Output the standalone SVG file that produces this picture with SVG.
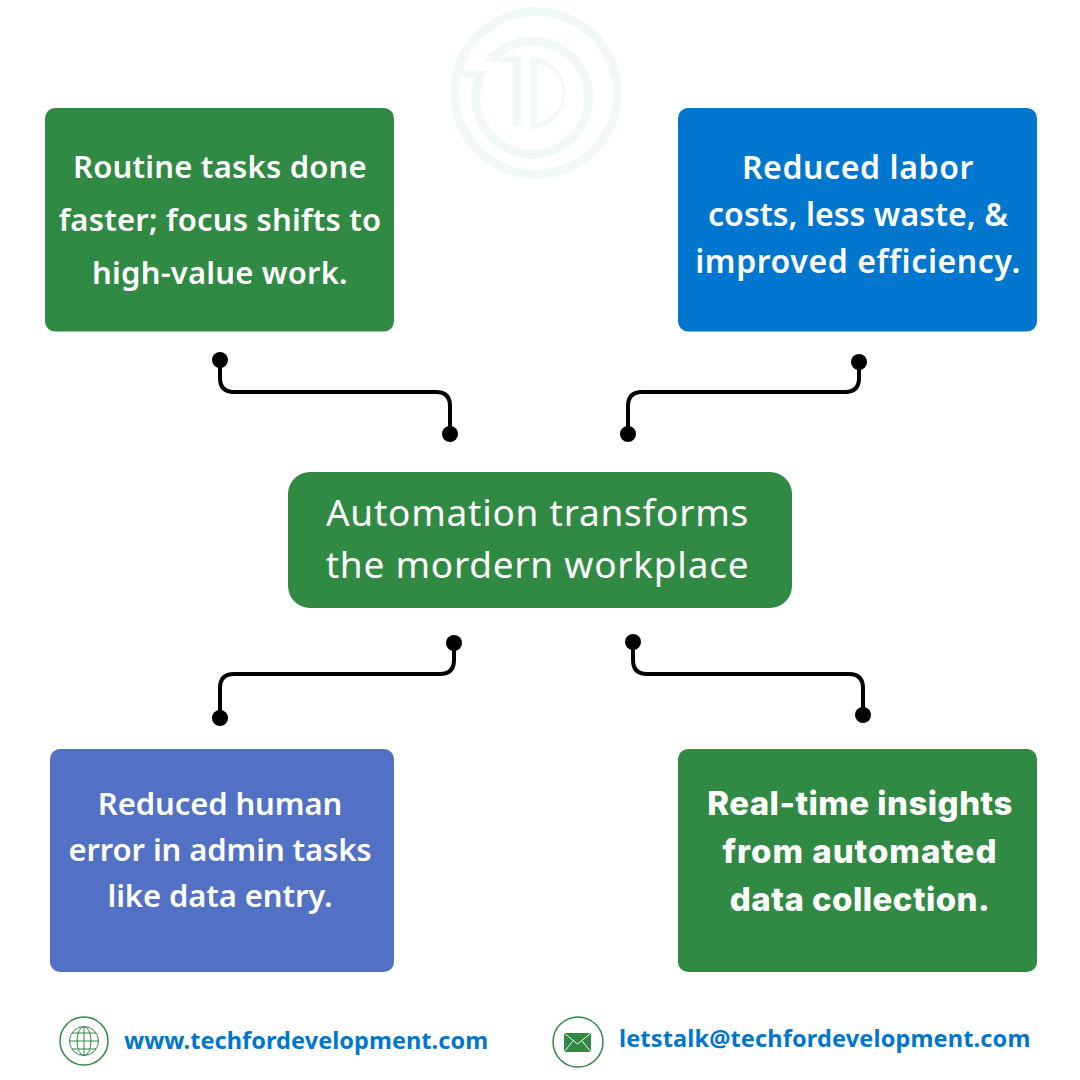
<svg xmlns="http://www.w3.org/2000/svg" width="1080" height="1080" viewBox="0 0 1080 1080">
<style>
text{font-family:"Noto Sans","Open Sans",sans-serif;text-anchor:middle;fill:#fff}
.b{font-size:31px;font-weight:600;letter-spacing:.2px}
.b2{font-size:32px;font-weight:600;letter-spacing:.6px}
.b3{font-size:31px;font-weight:600;letter-spacing:-.1px}
.x{font-size:33px;font-weight:800;letter-spacing:.45px;font-family:"Inter","Noto Sans",sans-serif}
.c{font-size:37px;font-weight:400;letter-spacing:.75px}
.l{font-size:23.500px;font-weight:700;fill:#0076ce;text-anchor:start;letter-spacing:.06px}
.g{fill:#318a43}.u{fill:#0076ce}.p{fill:#5271c4}
.w{fill:none;stroke:#000;stroke-width:4}
.logo{fill:none;stroke:#f0f9f5;stroke-width:9}
.lf{fill:#f0f9f5}
.ic{fill:none;stroke:#318a43}
</style>
<g id="logo">
<circle class="logo" cx="536" cy="93" r="81.500"/>
<path class="logo" d="M480 76A56.500 56.500 0 1 0 491 59"/>
<path class="lf" d="M462 71H489L484 77H461Z"/>
<path class="lf" d="M483 62L491 56.700H521V126H513V62Z"/>
<path class="lf" fill-rule="evenodd" d="M530 57H535A36.500 36.500 0 0 1 535 129H530ZM537 63.500V122A29.500 29.500 0 0 0 537 63.500Z"/>
</g>
<g id="connectors">
<g class="w">
<path d="M220 360V378Q220 392 234 392H436Q450 392 450 406V434"/>
<path d="M859 362V378Q859 392 845 392H642Q628 392 628 406V434"/>
<path d="M454 643V660Q454 674 440 674H234Q220 674 220 688V718"/>
<path d="M633 642V660Q633 674 647 674H849Q863 674 863 688V715"/>
</g>
<circle cx="220" cy="360" r="8"/><circle cx="450" cy="434" r="8"/>
<circle cx="859" cy="362" r="8"/><circle cx="628" cy="434" r="8"/>
<circle cx="454" cy="643" r="8"/><circle cx="220" cy="718" r="8"/>
<circle cx="633" cy="642" r="8"/><circle cx="863" cy="715" r="8"/>
</g>
<g id="node-routine">
<rect class="g" x="45" y="108" width="349" height="223.500" rx="10"/>
<text class="b" x="220" y="178">Routine tasks done</text>
<text class="b" x="220" y="231">faster; focus shifts to</text>
<text class="b" x="220" y="284">high-value work.</text>
</g>
<g id="node-costs">
<rect class="u" x="678" y="108" width="359" height="223.500" rx="10"/>
<text class="b2" x="858" y="179">Reduced labor</text>
<text class="b2" x="858" y="226" style="letter-spacing:.05px">costs, less waste, &amp;</text>
<text class="b2" x="858" y="273">improved efficiency.</text>
</g>
<g id="node-center">
<rect class="g" x="288" y="472" width="504" height="136" rx="22"/>
<text class="c" x="537.500" y="526">Automation transforms</text>
<text class="c" x="537.500" y="578">the mordern workplace</text>
</g>
<g id="node-error">
<rect class="p" x="50" y="749" width="344" height="223" rx="10"/>
<text class="b3" x="220" y="815">Reduced human</text>
<text class="b3" x="220" y="861">error in admin tasks</text>
<text class="b3" x="220" y="907">like data entry.</text>
</g>
<g id="node-insights">
<rect class="g" x="678" y="749" width="359" height="223" rx="10"/>
<text class="x" x="860" y="815">Real-time insights</text>
<text class="x" x="860" y="863" style="letter-spacing:1px">from automated</text>
<text class="x" x="860" y="911">data collection.</text>
</g>
<g id="contact-web">
<circle class="ic" cx="84" cy="1041" r="24" stroke-width="1.500"/>
<g class="ic" stroke-width="1">
<circle cx="84" cy="1041" r="14.500"/>
<ellipse cx="84" cy="1041" rx="7" ry="14.500"/>
<path d="M84 1026.500V1055.500M69.500 1041H98.500M72 1033H96M72 1049H96"/>
</g>
<text class="l" x="124" y="1049">www.techfordevelopment.com</text>
</g>
<g id="contact-mail">
<circle class="ic" cx="578" cy="1042" r="25" stroke-width="1.500"/>
<rect class="g" x="564" y="1033" width="27" height="19" rx="1"/>
<path d="M564 1033L577.500 1044L591 1033M564 1052L573 1041M591 1052L582 1041" fill="none" stroke="#fff" stroke-width="1"/>
<text class="l" x="619" y="1047" style="letter-spacing:.16px">letstalk@techfordevelopment.com</text>
</g>
</svg>
